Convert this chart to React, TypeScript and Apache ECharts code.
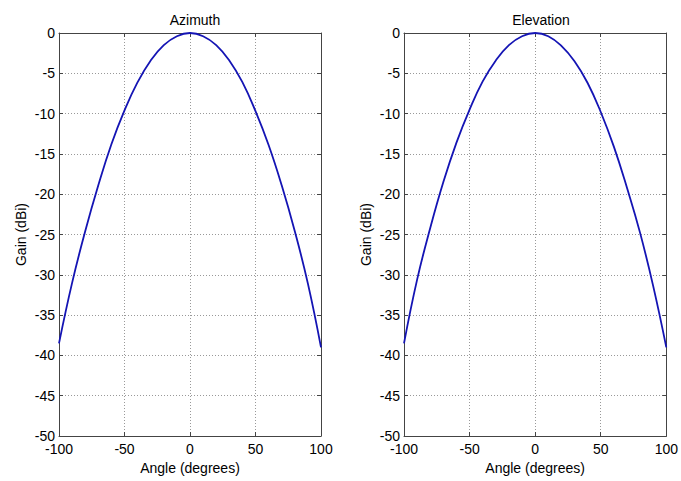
import React, { useEffect, useRef } from "react";
import * as echarts from "echarts";

const titles = ["Azimuth", "Elevation"];
const xTicks = [-100, -50, 0, 50, 100];
const yTicks = [-50, -45, -40, -35, -30, -25, -20, -15, -10, -5, 0];

// angles (degrees) and gains (dBi)
const angles = [-100, -90, -80, -70, -60, -50, -40, -30, -20, -10, 0, 10, 20, 30, 40, 50, 60, 70, 80, 90, 100];
const azimuthGain = [-38.5, -31.0, -24.6, -18.9, -13.8, -9.6, -6.1, -3.4, -1.5, -0.4, 0, -0.4, -1.5, -3.4, -6.1, -9.7, -13.9, -18.9, -24.6, -31.1, -39.0];
const elevationGain = [-38.5, -30.6, -24.2, -18.5, -13.6, -9.5, -6.0, -3.4, -1.5, -0.4, 0, -0.4, -1.6, -3.5, -6.2, -9.8, -14.1, -19.2, -24.8, -31.4, -39.0];

const FONT = "Liberation Sans, Arial, sans-serif";
const AXIS_COLOR = "#444";

export default function App() {
  const ref = useRef<HTMLDivElement>(null);
  useEffect(() => {
    if (!ref.current) return;
    const chart = echarts.init(ref.current, null, { renderer: "svg" });
    const grids = [
      { left: 59, right: 360, top: 33, bottom: 45 },
      { left: 404, right: 14, top: 33, bottom: 45 },
    ];
    const xAxes: any[] = [];
    const yAxes: any[] = [];
    grids.forEach((_, i) => {
      xAxes.push({
        type: "value", gridIndex: i, min: xTicks[0], max: xTicks[xTicks.length - 1], interval: 50,
        name: "Angle (degrees)", nameLocation: "middle", nameGap: 24,
        nameTextStyle: { fontSize: 14, fontFamily: FONT, color: "#000" },
        axisLine: { show: true, onZero: false, lineStyle: { color: AXIS_COLOR, width: 1 } },
        axisTick: { show: true, inside: true, length: 4, lineStyle: { color: AXIS_COLOR } },
        axisLabel: { fontSize: 14, lineHeight: 12, fontFamily: FONT, color: "#000", margin: 7 },
        splitLine: { show: true, lineStyle: { type: [1, 2], color: "#999", width: 1 } },
      });
      xAxes.push({
        type: "value", gridIndex: i, position: "top", min: xTicks[0], max: xTicks[xTicks.length - 1], interval: 50,
        axisLine: { show: true, onZero: false, lineStyle: { color: AXIS_COLOR, width: 1 } },
        axisTick: { show: true, inside: true, length: 4, lineStyle: { color: AXIS_COLOR } },
        axisLabel: { show: false }, splitLine: { show: false },
      });
      yAxes.push({
        type: "value", gridIndex: i, min: yTicks[0], max: yTicks[yTicks.length - 1], interval: 5,
        name: "Gain (dBi)", nameLocation: "middle", nameGap: 31,
        nameTextStyle: { fontSize: 14, fontFamily: FONT, color: "#000" },
        axisLine: { show: true, onZero: false, lineStyle: { color: AXIS_COLOR, width: 1 } },
        axisTick: { show: true, inside: true, length: 4, lineStyle: { color: AXIS_COLOR } },
        axisLabel: { fontSize: 14, lineHeight: 12, fontFamily: FONT, color: "#000", margin: 4 },
        splitLine: { show: true, lineStyle: { type: [1, 2], color: "#999", width: 1 } },
      });
      yAxes.push({
        type: "value", gridIndex: i, position: "right", min: yTicks[0], max: yTicks[yTicks.length - 1], interval: 5,
        axisLine: { show: true, onZero: false, lineStyle: { color: AXIS_COLOR, width: 1 } },
        axisTick: { show: true, inside: true, length: 4, lineStyle: { color: AXIS_COLOR } },
        axisLabel: { show: false }, splitLine: { show: false },
      });
    });
    const toPairs = (g: number[]) => angles.map((a, k) => [a, g[k]]);
    chart.setOption({
      animation: false,
      backgroundColor: "#fff",
      title: titles.map((t, i) => ({
        text: t, left: i === 0 ? 190 : 536, top: 8, textAlign: "center",
        textStyle: { fontSize: 14, fontWeight: "normal", fontFamily: FONT, color: "#000" },
      })),
      grid: grids,
      xAxis: xAxes,
      yAxis: yAxes,
      series: [azimuthGain, elevationGain].map((g, i) => ({
        type: "line", xAxisIndex: i * 2, yAxisIndex: i * 2, data: toPairs(g),
        smooth: 0.45, showSymbol: false, symbol: "none",
        lineStyle: { color: "#1414b4", width: 1.8 },
      })),
    });
    return () => chart.dispose();
  }, []);
  return (
    <div ref={ref} style={{ position: "fixed", left: 0, top: 0, width: 681, height: 481 }} />
  );
}
